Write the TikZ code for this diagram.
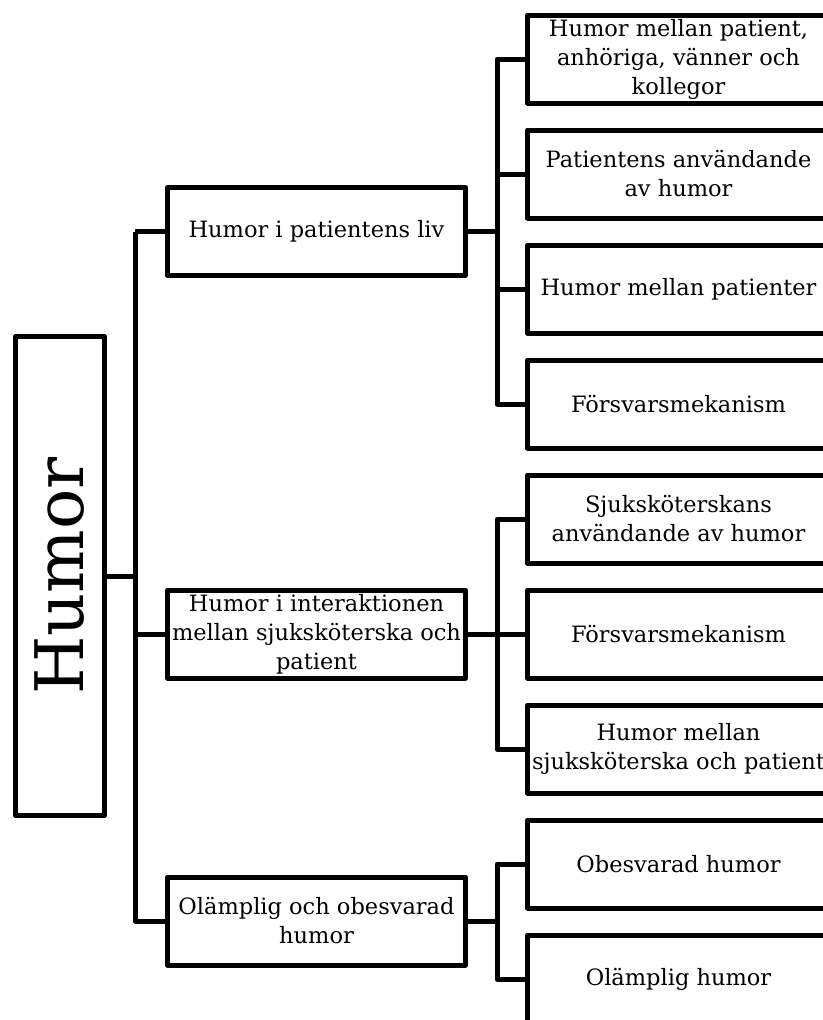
\documentclass[tikz,border=0pt]{standalone}
\usepackage{fontspec}
\setmainfont{DejaVu Serif}

\tikzset{
    catbox/.style={rectangle, draw, line width=5pt, line join=round, minimum width=298pt, minimum height=88pt, align=center, inner sep=2pt, font=\fontsize{22.5}{29}\selectfont},
    subbox/.style={catbox, minimum width=302pt},
    link/.style={line width=5pt, line join=round}
}

\begin{document}
\begin{tikzpicture}[x=1pt, y=-1pt]
    \useasboundingbox (0,0) rectangle (822,1020);

    % Main theme
    \node[rectangle, draw, line width=5pt, line join=round, minimum width=89pt, minimum height=479pt] (humor) at (60,576) {};
    \node[rotate=90, font=\fontsize{67}{70}\selectfont] (humortext) at (humor.center) {Humor};

    % Categories
    \node[catbox] (liv) at (316.5,231.5) {Humor i patientens liv};
    \node[catbox] (interak) at (316.5,634) {Humor i interaktionen\\mellan sjuksköterska och\\patient};
    \node[catbox] (olamp) at (316.5,921) {Olämplig och obesvarad\\humor};

    % Subcategories
    \node[subbox] (anhor) at (678.5,59) {Humor mellan patient,\\anhöriga, vänner och\\kollegor};
    \node[subbox] (patanv) at (678.5,174) {Patientens användande\\av humor};
    \node[subbox] (mellpat) at (678.5,289) {Humor mellan patienter};
    \node[subbox] (forsvA) at (678.5,404) {Försvarsmekanism};
    \node[subbox] (sjukanv) at (678.5,519) {Sjuksköterskans\\användande av humor};
    \node[subbox] (forsvB) at (678.5,634) {Försvarsmekanism};
    \node[subbox] (mellsjuk) at (678.5,749) {Humor mellan\\sjuksköterska och patient};
    \node[subbox] (obesv) at (678.5,864) {Obesvarad humor};
    \node[subbox] (olhum) at (678.5,979) {Olämplig humor};

    % Trunks
    \coordinate (trunk) at (135,0);
    \coordinate (branch) at (497,0);

    % Connectors to categories
    \draw[link] (liv.west -| trunk) |- (olamp.west);
    \draw[link] (humor.east) -- (humor.east -| trunk);
    \draw[link] (liv.west) -- (liv.west -| trunk);
    \draw[link] (interak.west) -- (interak.west -| trunk);

    % Connectors to subcategories
    \draw[link] (anhor.west) -| (branch |- forsvA.west) -- (forsvA.west);
    \draw[link] (liv.east) -- (liv.east -| branch);
    \draw[link] (patanv.west) -- (patanv.west -| branch);
    \draw[link] (mellpat.west) -- (mellpat.west -| branch);

    \draw[link] (sjukanv.west) -| (branch |- mellsjuk.west) -- (mellsjuk.west);
    \draw[link] (interak.east) -- (forsvB.west);

    \draw[link] (obesv.west) -| (branch |- olhum.west) -- (olhum.west);
    \draw[link] (olamp.east) -- (olamp.east -| branch);
\end{tikzpicture}
\end{document}
